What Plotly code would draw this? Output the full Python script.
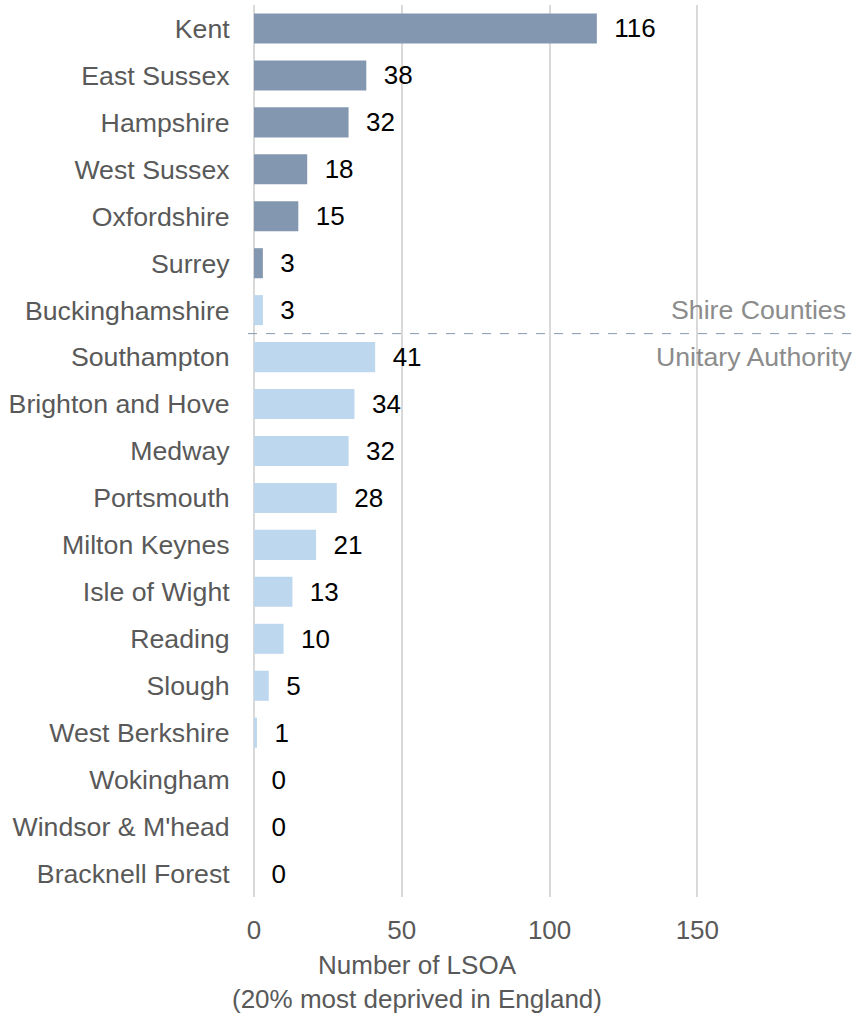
import plotly.graph_objects as go

# data
AREAS = ['Kent', 'East Sussex', 'Hampshire', 'West Sussex', 'Oxfordshire', 'Surrey',
         'Buckinghamshire', 'Southampton', 'Brighton and Hove', 'Medway', 'Portsmouth',
         'Milton Keynes', 'Isle of Wight', 'Reading', 'Slough', 'West Berkshire',
         'Wokingham', "Windsor & M'head", 'Bracknell Forest']
LSOA_COUNT = [116, 38, 32, 18, 15, 3, 3, 41, 34, 32, 28, 21, 13, 10, 5, 1, 0, 0, 0]
GROUP = ['Shire Counties'] * 7 + ['Unitary Authority'] * 12
SHADE = ['dark'] * 6 + ['light'] * 13

X_TICKS = [0, 50, 100, 150]
X_TITLE = 'Number of LSOA<br>(20% most deprived in England)'

# styles
COLOURS = {'dark': '#8497b0', 'light': '#bdd7ee'}
FONT = 'Liberation Sans, Arial, sans-serif'


def main():
    fig = go.Figure()

    fig.add_trace(go.Bar(
        y=AREAS, x=LSOA_COUNT, orientation='h',
        marker=dict(color=[COLOURS[s] for s in SHADE], line=dict(width=0)),
        width=0.64,
        text=LSOA_COUNT,
        texttemplate='\u00a0\u00a0%{text}',
        textposition='outside',
        outsidetextfont=dict(family=FONT, size=26, color='#000000'),
        cliponaxis=False,
        showlegend=False,
        hoverinfo='skip',
    ))

    # dashed split between the two groups
    first_unitary = GROUP.index('Unitary Authority')
    split = first_unitary - 0.5
    fig.add_shape(type='line', xref='paper', yref='y',
                  x0=-0.01, x1=1, y0=split, y1=split,
                  line=dict(color='#8497b0', width=1, dash='dash'))

    fig.add_annotation(xref='paper', yref='y', x=0.99, y=AREAS[first_unitary - 1],
                       text=GROUP[first_unitary - 1], showarrow=False, xanchor='right',
                       font=dict(family=FONT, size=26.7, color='#8c8c8c'))
    fig.add_annotation(xref='paper', yref='y', x=1.0, y=AREAS[first_unitary],
                       text=GROUP[first_unitary], showarrow=False, xanchor='right',
                       font=dict(family=FONT, size=26.7, color='#8c8c8c'))

    # axis title sits left of the plot centre in the original
    fig.add_annotation(xref='paper', yref='paper', x=0.272, y=0,
                       xanchor='center', yanchor='top', yshift=-51,
                       text=X_TITLE, showarrow=False,
                       font=dict(family=FONT, size=26, color='#595959'))

    fig.update_xaxes(
        range=[0, 203], tickvals=X_TICKS,
        showgrid=True, gridcolor='#d9d9d9', gridwidth=2,
        zeroline=True, zerolinecolor='#d9d9d9', zerolinewidth=2,
        showline=False,
        ticks='outside', ticklen=10, tickcolor='rgba(0,0,0,0)',
        tickfont=dict(family=FONT, size=26, color='#595959'),
    )
    fig.update_yaxes(
        autorange='reversed', showgrid=False, showline=False,
        ticks='outside', ticklen=18, tickcolor='rgba(0,0,0,0)',
        tickfont=dict(family=FONT, size=26.7, color='#595959'),
    )

    fig.update_layout(
        width=854, height=1013,
        margin=dict(l=254, r=0, t=5, b=116),
        plot_bgcolor='white', paper_bgcolor='white',
        bargap=0.36,
    )

    fig.write_html('out.html', config={'displayModeBar': False},
                   post_script="document.body.style.margin='0';")


if __name__ == '__main__':
    main()
